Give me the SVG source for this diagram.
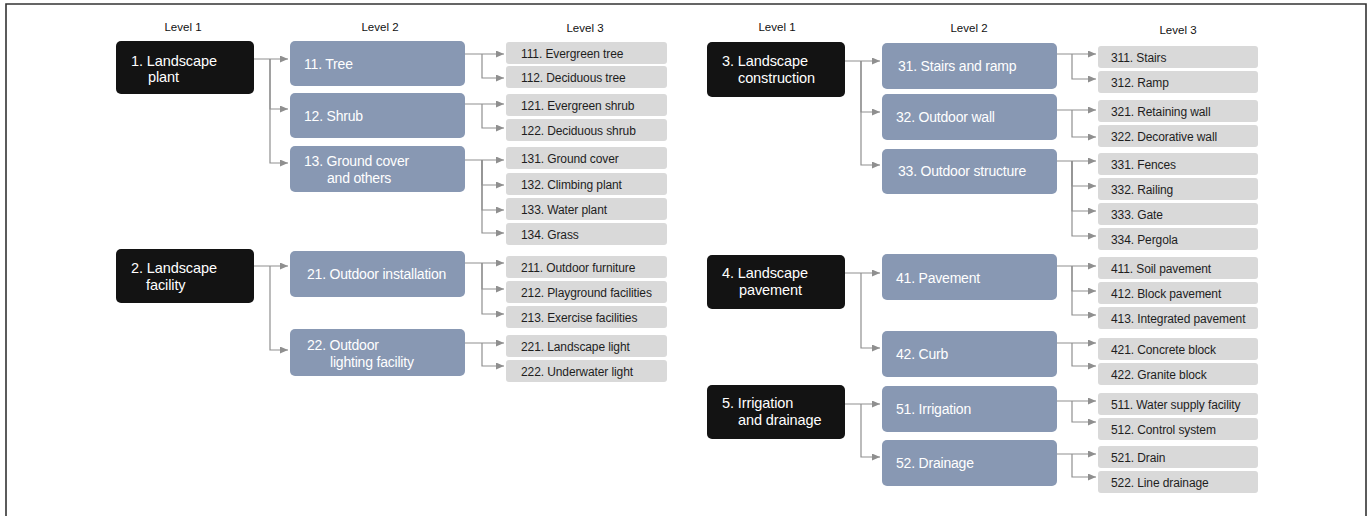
<svg xmlns="http://www.w3.org/2000/svg" width="1372" height="516" viewBox="0 0 1372 516">
<defs>
<style>
.l1 rect{fill:#131313}
.l2 rect{fill:#8898b3}
.l3 rect{fill:#d9d9d9}
text{font-family:"Liberation Sans",Arial,sans-serif}
.l1 text{fill:#fff;font-size:14.5px;letter-spacing:-0.1px}
.l2 text{fill:#fff;font-size:14px;letter-spacing:-0.2px}
.l3 text{fill:#1e1e1e;font-size:12px;letter-spacing:-0.1px}
.lvl{fill:#111;font-size:11.5px;text-anchor:middle}
#connectors path{fill:none;stroke:#8f8f8f;stroke-width:1.2;marker-end:url(#arr)}
</style>
<marker id="arr" markerUnits="userSpaceOnUse" markerWidth="8" markerHeight="7" refX="8" refY="3.5" orient="auto">
<path d="M0,0 L8,3.5 L0,7 z" fill="#8f8f8f"/>
</marker>
</defs>
<rect x="0" y="0" width="1372" height="516" fill="#fff"/>
<path d="M6,516 V4 H1366 V516" fill="none" stroke="#333" stroke-width="1.6"/>

<g id="headers">
<text class="lvl" x="183" y="31">Level 1</text>
<text class="lvl" x="380" y="31">Level 2</text>
<text class="lvl" x="585" y="32">Level 3</text>
<text class="lvl" x="777" y="31">Level 1</text>
<text class="lvl" x="969" y="32">Level 2</text>
<text class="lvl" x="1178" y="34">Level 3</text>
</g>

<g id="connectors">
<path d="M254,59 H288"/>
<path d="M270,59 V109 H288"/>
<path d="M270,59 V163 H288"/>
<path d="M254,266 H288"/>
<path d="M270,266 V350 H288"/>
<path d="M465,54 H504"/>
<path d="M482,54 V78 H504"/>
<path d="M465,104 H504"/>
<path d="M482,104 V128 H504"/>
<path d="M465,160 H504"/>
<path d="M482,160 V185 H504"/>
<path d="M482,160 V210 H504"/>
<path d="M482,160 V233 H504"/>
<path d="M465,263 H504"/>
<path d="M482,263 V289 H504"/>
<path d="M482,263 V314 H504"/>
<path d="M465,343 H504"/>
<path d="M482,343 V366 H504"/>
<path d="M845,61 H880"/>
<path d="M861,61 V112 H880"/>
<path d="M861,61 V165 H880"/>
<path d="M845,273 H880"/>
<path d="M861,273 V348 H880"/>
<path d="M845,404 H880"/>
<path d="M861,404 V457 H880"/>
<path d="M1057,54 H1096"/>
<path d="M1072,54 V79 H1096"/>
<path d="M1057,110 H1096"/>
<path d="M1072,110 V137 H1096"/>
<path d="M1057,161 H1096"/>
<path d="M1072,161 V186 H1096"/>
<path d="M1072,161 V211 H1096"/>
<path d="M1072,161 V236 H1096"/>
<path d="M1057,266 H1096"/>
<path d="M1072,266 V291 H1096"/>
<path d="M1072,266 V315 H1096"/>
<path d="M1057,343 H1096"/>
<path d="M1072,343 V366 H1096"/>
<path d="M1057,401 H1096"/>
<path d="M1072,401 V422 H1096"/>
<path d="M1057,454 H1096"/>
<path d="M1072,454 V477 H1096"/>
</g>

<g id="n1" class="l1"><rect x="116" y="41" width="138" height="53" rx="5"/><text x="131" y="66">1. Landscape</text><text x="148" y="82">plant</text></g>
<g id="n2" class="l1"><rect x="116" y="249" width="138" height="54" rx="5"/><text x="131" y="273">2. Landscape</text><text x="146" y="290">facility</text></g>
<g id="n3" class="l1"><rect x="707" y="42" width="138" height="55" rx="5"/><text x="722" y="66">3. Landscape</text><text x="738" y="83">construction</text></g>
<g id="n4" class="l1"><rect x="707" y="255" width="138" height="54" rx="5"/><text x="722" y="278">4. Landscape</text><text x="739" y="295">pavement</text></g>
<g id="n5" class="l1"><rect x="707" y="385" width="138" height="54" rx="5"/><text x="722" y="408">5. Irrigation</text><text x="738" y="425">and drainage</text></g>

<g id="n11" class="l2"><rect x="290" y="41" width="175" height="45" rx="5"/><text x="304" y="69">11. Tree</text></g>
<g id="n12" class="l2"><rect x="290" y="93" width="175" height="45" rx="5"/><text x="304" y="121">12. Shrub</text></g>
<g id="n13" class="l2"><rect x="290" y="146" width="175" height="46" rx="5"/><text x="304" y="166">13. Ground cover</text><text x="327" y="183">and others</text></g>
<g id="n21" class="l2"><rect x="290" y="251" width="175" height="46" rx="5"/><text x="307" y="279">21. Outdoor installation</text></g>
<g id="n22" class="l2"><rect x="290" y="329" width="175" height="47" rx="5"/><text x="307" y="350">22. Outdoor</text><text x="330" y="367">lighting facility</text></g>
<g id="n31" class="l2"><rect x="882" y="43" width="175" height="46" rx="5"/><text x="898" y="71">31. Stairs and ramp</text></g>
<g id="n32" class="l2"><rect x="882" y="94" width="175" height="46" rx="5"/><text x="896" y="122">32. Outdoor wall</text></g>
<g id="n33" class="l2"><rect x="882" y="149" width="175" height="45" rx="5"/><text x="898" y="176">33. Outdoor structure</text></g>
<g id="n41" class="l2"><rect x="882" y="254" width="175" height="46" rx="5"/><text x="896" y="283">41. Pavement</text></g>
<g id="n42" class="l2"><rect x="882" y="331" width="175" height="46" rx="5"/><text x="896" y="359">42. Curb</text></g>
<g id="n51" class="l2"><rect x="882" y="386" width="175" height="46" rx="5"/><text x="896" y="414">51. Irrigation</text></g>
<g id="n52" class="l2"><rect x="882" y="440" width="175" height="46" rx="5"/><text x="896" y="468">52. Drainage</text></g>

<g id="n111" class="l3"><rect x="506" y="42" width="161" height="22" rx="3"/><text x="521" y="57.5">111. Evergreen tree</text></g>
<g id="n112" class="l3"><rect x="506" y="66" width="161" height="22" rx="3"/><text x="521" y="81.5">112. Deciduous tree</text></g>
<g id="n121" class="l3"><rect x="506" y="94" width="161" height="22" rx="3"/><text x="521" y="109.5">121. Evergreen shrub</text></g>
<g id="n122" class="l3"><rect x="506" y="119" width="161" height="22" rx="3"/><text x="521" y="134.5">122. Deciduous shrub</text></g>
<g id="n131" class="l3"><rect x="506" y="147" width="161" height="22" rx="3"/><text x="521" y="162.5">131. Ground cover</text></g>
<g id="n132" class="l3"><rect x="506" y="173" width="161" height="22" rx="3"/><text x="521" y="188.5">132. Climbing plant</text></g>
<g id="n133" class="l3"><rect x="506" y="198" width="161" height="22" rx="3"/><text x="521" y="213.5">133. Water plant</text></g>
<g id="n134" class="l3"><rect x="506" y="223" width="161" height="22" rx="3"/><text x="521" y="238.5">134. Grass</text></g>
<g id="n211" class="l3"><rect x="506" y="256" width="161" height="22" rx="3"/><text x="521" y="271.5">211. Outdoor furniture</text></g>
<g id="n212" class="l3"><rect x="506" y="281" width="161" height="22" rx="3"/><text x="521" y="296.5">212. Playground facilities</text></g>
<g id="n213" class="l3"><rect x="506" y="306" width="161" height="22" rx="3"/><text x="521" y="321.5">213. Exercise facilities</text></g>
<g id="n221" class="l3"><rect x="506" y="335" width="161" height="22" rx="3"/><text x="521" y="350.5">221. Landscape light</text></g>
<g id="n222" class="l3"><rect x="506" y="360" width="161" height="22" rx="3"/><text x="521" y="375.5">222. Underwater light</text></g>

<g id="n311" class="l3"><rect x="1098" y="46" width="160" height="22" rx="3"/><text x="1111" y="61.5">311. Stairs</text></g>
<g id="n312" class="l3"><rect x="1098" y="71" width="160" height="22" rx="3"/><text x="1111" y="86.5">312. Ramp</text></g>
<g id="n321" class="l3"><rect x="1098" y="100" width="160" height="22" rx="3"/><text x="1111" y="115.5">321. Retaining wall</text></g>
<g id="n322" class="l3"><rect x="1098" y="125" width="160" height="22" rx="3"/><text x="1111" y="140.5">322. Decorative wall</text></g>
<g id="n331" class="l3"><rect x="1098" y="153" width="160" height="22" rx="3"/><text x="1111" y="168.5">331. Fences</text></g>
<g id="n332" class="l3"><rect x="1098" y="178" width="160" height="22" rx="3"/><text x="1111" y="193.5">332. Railing</text></g>
<g id="n333" class="l3"><rect x="1098" y="203" width="160" height="22" rx="3"/><text x="1111" y="218.5">333. Gate</text></g>
<g id="n334" class="l3"><rect x="1098" y="228" width="160" height="22" rx="3"/><text x="1111" y="243.5">334. Pergola</text></g>
<g id="n411" class="l3"><rect x="1098" y="257" width="160" height="22" rx="3"/><text x="1111" y="272.5">411. Soil pavement</text></g>
<g id="n412" class="l3"><rect x="1098" y="282" width="160" height="22" rx="3"/><text x="1111" y="297.5">412. Block pavement</text></g>
<g id="n413" class="l3"><rect x="1098" y="307" width="160" height="22" rx="3"/><text x="1111" y="322.5">413. Integrated pavement</text></g>
<g id="n421" class="l3"><rect x="1098" y="338" width="160" height="22" rx="3"/><text x="1111" y="353.5">421. Concrete block</text></g>
<g id="n422" class="l3"><rect x="1098" y="363" width="160" height="22" rx="3"/><text x="1111" y="378.5">422. Granite block</text></g>
<g id="n511" class="l3"><rect x="1098" y="393" width="160" height="22" rx="3"/><text x="1111" y="408.5">511. Water supply facility</text></g>
<g id="n512" class="l3"><rect x="1098" y="418" width="160" height="22" rx="3"/><text x="1111" y="433.5">512. Control system</text></g>
<g id="n521" class="l3"><rect x="1098" y="446" width="160" height="22" rx="3"/><text x="1111" y="461.5">521. Drain</text></g>
<g id="n522" class="l3"><rect x="1098" y="471" width="160" height="22" rx="3"/><text x="1111" y="486.5">522. Line drainage</text></g>
</svg>
